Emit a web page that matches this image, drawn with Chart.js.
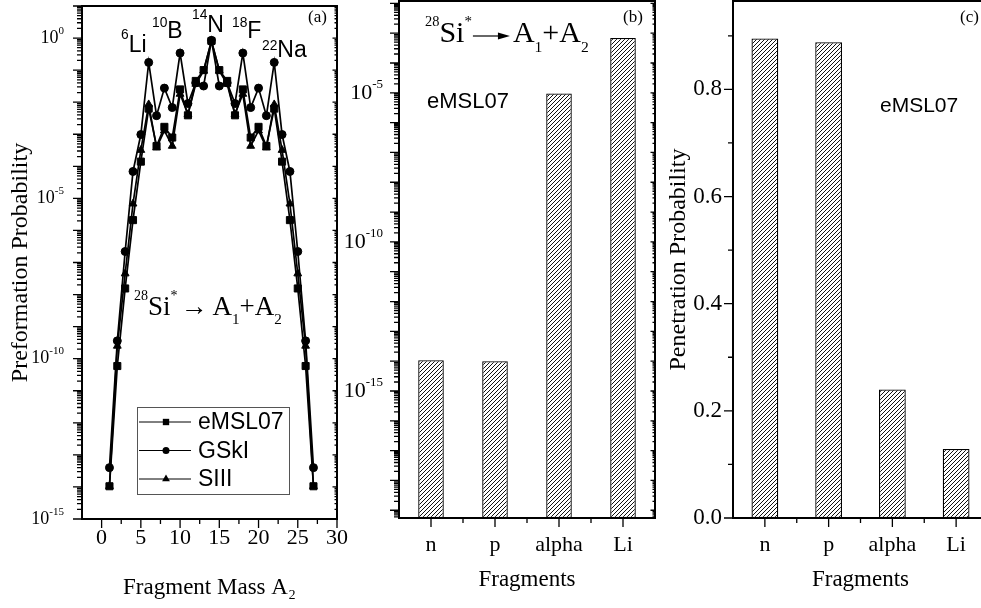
<!DOCTYPE html>
<html lang="en">
<head>
<meta charset="UTF-8">
<title>Preformation and penetration probabilities of 28Si* fragments</title>
<script src="https://cdn.jsdelivr.net/npm/chart.js"></script>
<style>
  body { margin: 0; background: #fff; overflow: hidden; }
  #page { position: relative; width: 981px; height: 608px; overflow: hidden; }
  #page canvas { position: absolute; top: 0; }
</style>
</head>
<body>
<div id="page">
  <canvas id="preform" width="360" height="608" style="left:0px"></canvas>
  <canvas id="fragLog" width="320" height="608" style="left:340px"></canvas>
  <canvas id="penetr" width="340" height="608" style="left:660px"></canvas>
</div>

<script>
// ---- data ----
const massA2 = [1, 2, 3, 4, 5, 6, 7, 8, 9, 10, 11, 12, 13, 14, 15, 16, 17, 18, 19, 20, 21, 22, 23, 24, 25, 26, 27];
const eMSL07 = [1.05e-14, 5.9e-11, 1.55e-8, 2.1e-6, 1.4e-4, 6.3e-3, 4.3e-4, 1.7e-3, 7.9e-4, 2.5e-2, 3.9e-3, 4.6e-2, 1.0e-1, 8.1e-1,
                1.0e-1, 4.6e-2, 3.9e-3, 2.5e-2, 7.9e-4, 1.7e-3, 4.3e-4, 6.3e-3, 1.4e-4, 2.1e-6, 1.55e-8, 5.9e-11, 1.05e-14];
const GSkI   = [4.0e-14, 3.6e-10, 2.2e-7, 6.9e-5, 9.8e-4, 1.74e-1, 3.8e-3, 2.75e-2, 6.8e-3, 3.4e-1, 9.1e-3, 4.0e-2, 3.2e-2, 8.5e-1,
                3.2e-2, 4.0e-2, 9.1e-3, 3.4e-1, 6.8e-3, 2.75e-2, 3.8e-3, 1.74e-1, 9.8e-4, 6.9e-5, 2.2e-7, 3.6e-10, 4.0e-14];
const SIII   = [1.05e-14, 2.5e-10, 4.5e-8, 6.8e-6, 3.2e-4, 8.5e-3, 3.8e-4, 1.3e-3, 4.3e-4, 1.8e-2, 4.2e-3, 3.7e-2, 9.5e-2, 8.1e-1,
                9.5e-2, 3.7e-2, 4.2e-3, 1.8e-2, 4.3e-4, 1.3e-3, 3.8e-4, 8.5e-3, 3.2e-4, 6.8e-6, 4.5e-8, 2.5e-10, 1.05e-14];

const fragments = ['n', 'p', 'alpha', 'Li'];
const fragPreform = [1.07e-14, 1.0e-14, 9.5e-6, 6.9e-4];   // eMSL07, panel (b)
const fragPenetration = [0.895, 0.888, 0.240, 0.129];    // panel (c)

// tick labels
const massTicks = [0, 5, 10, 15, 20, 25, 30];
const preformExp = [0, -5, -10, -15];
const fragExp = [-5, -10, -15];
const penTicks = [0, 0.2, 0.4, 0.6, 0.8];

const SERIF = '"Liberation Serif", "Times New Roman", serif';
const SANS = '"Liberation Sans", Arial, sans-serif';

Chart.defaults.font.family = SERIF;
Chart.defaults.color = '#000';

// ---- helpers ----
function logTicks(min, max) {
  const out = [];
  for (let e = Math.floor(Math.log10(min)); e <= Math.ceil(Math.log10(max)); e++) {
    for (let k = 1; k < 10; k++) {
      const v = k * Math.pow(10, e);
      if (v >= min * 0.999 && v <= max * 1.001) out.push({ v, major: k === 1 });
    }
  }
  return out;
}

// axis frame, tick marks, and 10^n labels
function frameTicks(cfg) {
  return {
    id: 'frameTicks',
    afterDraw(chart) {
      const { ctx, chartArea: a } = chart;
      const xs = chart.scales.x, ys = chart.scales.y;
      ctx.save();
      ctx.strokeStyle = '#000';
      ctx.lineWidth = 1.3;
      ctx.beginPath();
      cfg.xTicks.forEach(t => {
        const px = xs.getPixelForValue(t.v);
        const len = t.major ? 9 : 5;
        ctx.moveTo(px, a.bottom);
        ctx.lineTo(px, a.bottom + len);
      });
      const yt = cfg.yLog ? logTicks(ys.min, ys.max) : cfg.yTicks;
      yt.forEach(t => {
        const py = ys.getPixelForValue(t.v);
        const len = t.major ? 9 : 5;
        ctx.moveTo(a.left, py);
        ctx.lineTo(a.left - len, py);
        if (cfg.mirror) {
          ctx.moveTo(a.right, py);
          ctx.lineTo(a.right - len * 0.5, py);
        }
      });
      ctx.stroke();
      ctx.lineWidth = 2;
      ctx.strokeRect(a.left, a.top, a.right - a.left, a.bottom - a.top);

      if (cfg.powers) {
        const p = cfg.powers;
        ctx.fillStyle = '#000';
        p.exps.forEach(e => {
          const py = ys.getPixelForValue(Math.pow(10, e));
          ctx.font = p.size + 'px ' + SERIF;
          const wBase = ctx.measureText('10').width;
          ctx.font = p.supSize + 'px ' + SERIF;
          const wSup = ctx.measureText(String(e)).width;
          const x0 = p.right - wBase - wSup;
          ctx.font = p.size + 'px ' + SERIF;
          ctx.textBaseline = 'middle';
          ctx.fillText('10', x0, py);
          ctx.font = p.supSize + 'px ' + SERIF;
          ctx.textBaseline = 'alphabetic';
          ctx.fillText(String(e), x0 + wBase, py - p.size * 0.24);
        });
      }
      ctx.restore();
    }
  };
}

function drawRich(ctx, item) {
  const size = item.size, fam = item.family;
  let cx = item.x;
  item.parts.forEach(p => {
    if (p.dx) cx += p.dx;
    if (p.arrow) {
      const ay = item.y - size * 0.2;
      ctx.lineWidth = 1.2;
      ctx.beginPath();
      ctx.moveTo(cx, ay);
      ctx.lineTo(cx + p.arrow - 8, ay);
      ctx.stroke();
      ctx.beginPath();
      ctx.moveTo(cx + p.arrow, ay);
      ctx.lineTo(cx + p.arrow - 12, ay - 3.5);
      ctx.lineTo(cx + p.arrow - 12, ay + 3.5);
      ctx.closePath();
      ctx.fill();
      cx += p.arrow;
      return;
    }
    const small = p.sup || p.sub;
    const s = small ? size * (p.scale || 0.55) : size;
    const dy = p.sup ? -size * (p.rise || 0.5) : (p.sub ? size * 0.33 : 0);
    ctx.font = s + 'px ' + fam;
    ctx.fillText(p.t, cx, item.y + dy);
    cx += ctx.measureText(p.t).width;
  });
}

function notes(items) {
  return {
    id: 'notes',
    afterDraw(chart) {
      const ctx = chart.ctx;
      ctx.save();
      ctx.fillStyle = '#000';
      ctx.strokeStyle = '#000';
      ctx.textBaseline = 'alphabetic';
      ctx.textAlign = 'left';
      items.forEach(it => drawRich(ctx, it));
      ctx.restore();
    }
  };
}

function drawMarker(ctx, style, x, y, r) {
  ctx.beginPath();
  if (style === 'rect') {
    const h = r * Math.SQRT1_2;
    ctx.rect(x - h, y - h, 2 * h, 2 * h);
  } else if (style === 'triangle') {
    ctx.moveTo(x, y - r);
    ctx.lineTo(x + r * 0.87, y + r * 0.5);
    ctx.lineTo(x - r * 0.87, y + r * 0.5);
    ctx.closePath();
  } else {
    ctx.arc(x, y, r, 0, Math.PI * 2);
  }
  ctx.fill();
}

const legendBox = {
  id: 'legendBox',
  afterDraw(chart) {
    const ctx = chart.ctx;
    const box = { x: 137, y: 407, w: 152, h: 87 };
    ctx.save();
    ctx.strokeStyle = '#555';
    ctx.lineWidth = 1;
    ctx.strokeRect(box.x + 0.5, box.y + 0.5, box.w, box.h);
    chart.data.datasets.forEach((ds, i) => {
      const cy = box.y + 15 + i * 28.5;
      ctx.strokeStyle = '#000';
      ctx.fillStyle = '#000';
      ctx.lineWidth = 1;
      ctx.beginPath();
      ctx.moveTo(box.x + 2, cy);
      ctx.lineTo(box.x + 54, cy);
      ctx.stroke();
      drawMarker(ctx, ds.pointStyle, box.x + 29, cy, ds.pointStyle === 'circle' ? 3.5 : 4.5);
      ctx.font = '23px ' + SANS;
      ctx.textBaseline = 'middle';
      ctx.fillText(ds.label, box.x + 61, cy + 1);
    });
    ctx.restore();
  }
};

function hatch() {
  const c = document.createElement('canvas');
  c.width = 4; c.height = 4;
  const g = c.getContext('2d');
  g.fillStyle = '#fff';
  g.fillRect(0, 0, 4, 4);
  g.strokeStyle = '#111';
  g.lineWidth = 1;
  g.beginPath();
  g.moveTo(-1, 5); g.lineTo(5, -1);
  g.moveTo(-1, 1); g.lineTo(1, -1);
  g.moveTo(3, 5); g.lineTo(5, 3);
  g.stroke();
  return g.createPattern(c, 'repeat');
}

function fixX(h) {
  return s => { s.height = h; s.paddingLeft = 0; s.paddingRight = 0; };
}
function fixY(w) {
  return s => { s.width = w; s.paddingTop = 0; s.paddingBottom = 0; };
}

function lineSet(label, values, style, r) {
  return {
    label: label,
    data: massA2.map((a, i) => ({ x: a, y: values[i] })),
    borderColor: '#000',
    backgroundColor: '#000',
    borderWidth: 1.7,
    pointStyle: style,
    pointRadius: r,
    pointBackgroundColor: '#000',
    pointBorderColor: '#000',
    pointBorderWidth: 1,
    tension: 0
  };
}

// ---- panel (a) ----
const massMinor = massTicks.slice(0, -1).map(v => v + 2.5);
new Chart(document.getElementById('preform'), {
  type: 'line',
  data: {
    datasets: [
      lineSet('eMSL07', eMSL07, 'rect', 5),
      lineSet('GSkI', GSkI, 'circle', 4),
      lineSet('SIII', SIII, 'triangle', 4.5)
    ]
  },
  options: {
    responsive: false,
    animation: false,
    layout: { padding: { left: 0, right: 23, top: 1, bottom: 0 } },
    plugins: { legend: { display: false }, tooltip: { enabled: false } },
    scales: {
      x: {
        type: 'linear', min: -2.5, max: 30,
        afterFit: fixX(89),
        grid: { display: false, drawTicks: false },
        border: { display: false },
        ticks: {
          stepSize: 5, autoSkip: false, includeBounds: false, padding: 6, maxRotation: 0,
          font: { family: SERIF, size: 22 },
          callback: v => massTicks.includes(v) ? String(v) : ''
        },
        title: { display: true, text: 'Fragment Mass A₂', font: { family: SERIF, size: 23 }, padding: { top: 0, bottom: 6 } }
      },
      y: {
        type: 'logarithmic', min: 1e-15, max: 10,
        afterFit: fixY(82),
        grid: { display: false, drawTicks: false },
        border: { display: false },
        ticks: { display: false },
        title: { display: true, text: 'Preformation Probability', font: { family: SERIF, size: 24 }, padding: { top: 6, bottom: 0 } }
      }
    }
  },
  plugins: [
    frameTicks({
      xTicks: massTicks.map(v => ({ v, major: true })).concat(massMinor.map(v => ({ v, major: false }))),
      yLog: true, mirror: true,
      powers: { exps: preformExp, right: 64, size: 18, supSize: 11 }
    }),
    notes([
      { x: 121, y: 52, size: 23, family: SANS, parts: [{ t: '6', sup: true, scale: 0.6, rise: 0.55 }, { t: 'Li' }] },
      { x: 152, y: 38, size: 23, family: SANS, parts: [{ t: '10', sup: true, scale: 0.6, rise: 0.5 }, { t: 'B' }] },
      { x: 192, y: 32, size: 23, family: SANS, parts: [{ t: '14', sup: true, scale: 0.6, rise: 0.55 }, { t: 'N' }] },
      { x: 232, y: 38, size: 23, family: SANS, parts: [{ t: '18', sup: true, scale: 0.6, rise: 0.5 }, { t: 'F' }] },
      { x: 262, y: 57, size: 23, family: SANS, parts: [{ t: '22', sup: true, scale: 0.6, rise: 0.3 }, { t: 'Na' }] },
      { x: 134, y: 315, size: 27, family: SERIF, parts: [
        { t: '28', sup: true, scale: 0.52, rise: 0.55 }, { t: 'Si' }, { t: '*', sup: true, scale: 0.52, rise: 0.55 },
        { t: '→', dx: 3 }, { t: 'A', dx: 5 }, { t: '1', sub: true, scale: 0.56 }, { t: '+' }, { t: 'A' }, { t: '2', sub: true, scale: 0.56 }
      ] },
      { x: 308, y: 22, size: 17, family: SERIF, parts: [{ t: '(a)' }] }
    ]),
    legendBox
  ]
});

// ---- panel (b) ----
const catTicks = fragments.map((f, i) => ({ v: i, major: true }))
  .concat(fragments.slice(1).map((f, i) => ({ v: i + 0.5, major: false })));

new Chart(document.getElementById('fragLog'), {
  type: 'bar',
  data: {
    labels: fragments,
    datasets: [{
      label: 'eMSL07',
      data: fragPreform,
      backgroundColor: hatch(),
      borderColor: '#000',
      borderWidth: 1.3,
      borderSkipped: false,
      barPercentage: 0.4,
      categoryPercentage: 1
    }]
  },
  options: {
    responsive: false,
    animation: false,
    layout: { padding: { left: 0, right: 5, top: 1, bottom: 0 } },
    plugins: { legend: { display: false }, tooltip: { enabled: false } },
    scales: {
      x: {
        afterFit: fixX(90),
        grid: { display: false, drawTicks: false },
        border: { display: false },
        ticks: { padding: 14, maxRotation: 0, font: { family: SERIF, size: 22 } },
        title: { display: true, text: 'Fragments', font: { family: SERIF, size: 23 }, padding: { top: 0, bottom: 14 } }
      },
      y: {
        type: 'logarithmic', min: 5.5e-20, max: 1.2e-2,
        afterFit: fixY(59),
        grid: { display: false, drawTicks: false },
        border: { display: false },
        ticks: { display: false }
      }
    }
  },
  plugins: [
    frameTicks({ xTicks: catTicks, yLog: true, mirror: true, powers: { exps: fragExp, right: 43, size: 22, supSize: 13 } }),
    notes([
      { x: 85, y: 42, size: 30, family: SERIF, parts: [
        { t: '28', sup: true, scale: 0.48, rise: 0.55 }, { t: 'Si' }, { t: '*', sup: true, scale: 0.5, rise: 0.55 },
        { arrow: 37, dx: 1 }, { t: 'A', dx: 3 }, { t: '1', sub: true, scale: 0.52 }, { t: '+' }, { t: 'A' }, { t: '2', sub: true, scale: 0.52 }
      ] },
      { x: 87, y: 108, size: 22, family: SANS, parts: [{ t: 'eMSL07' }] },
      { x: 283, y: 22, size: 17, family: SERIF, parts: [{ t: '(b)' }] }
    ])
  ]
});

// ---- panel (c) ----
new Chart(document.getElementById('penetr'), {
  type: 'bar',
  data: {
    labels: fragments,
    datasets: [{
      label: 'eMSL07',
      data: fragPenetration,
      backgroundColor: hatch(),
      borderColor: '#000',
      borderWidth: 1.3,
      borderSkipped: false,
      barPercentage: 0.42,
      categoryPercentage: 1
    }]
  },
  options: {
    responsive: false,
    animation: false,
    layout: { padding: { left: 0, right: 12, top: 1, bottom: 0 } },
    plugins: { legend: { display: false }, tooltip: { enabled: false } },
    scales: {
      x: {
        afterFit: fixX(90),
        grid: { display: false, drawTicks: false },
        border: { display: false },
        ticks: { padding: 14, maxRotation: 0, font: { family: SERIF, size: 22 } },
        title: { display: true, text: 'Fragments', font: { family: SERIF, size: 23 }, padding: { top: 0, bottom: 14 } }
      },
      y: {
        min: 0, max: 0.965,
        afterFit: fixY(73),
        grid: { display: false, drawTicks: false },
        border: { display: false },
        ticks: {
          stepSize: 0.2, includeBounds: false, padding: 11,
          font: { family: SERIF, size: 23 },
          callback: v => v.toFixed(1)
        },
        title: { display: true, text: 'Penetration Probability', font: { family: SERIF, size: 24 }, padding: { top: 4, bottom: 0 } }
      }
    }
  },
  plugins: [
    frameTicks({
      xTicks: catTicks,
      yTicks: penTicks.map(v => ({ v, major: true })).concat(penTicks.map(v => ({ v: v + 0.1, major: false }))),
      mirror: false
    }),
    notes([
      { x: 220, y: 112, size: 21, family: SANS, parts: [{ t: 'eMSL07' }] },
      { x: 300, y: 22, size: 17, family: SERIF, parts: [{ t: '(c)' }] }
    ])
  ]
});
</script>
</body>
</html>
